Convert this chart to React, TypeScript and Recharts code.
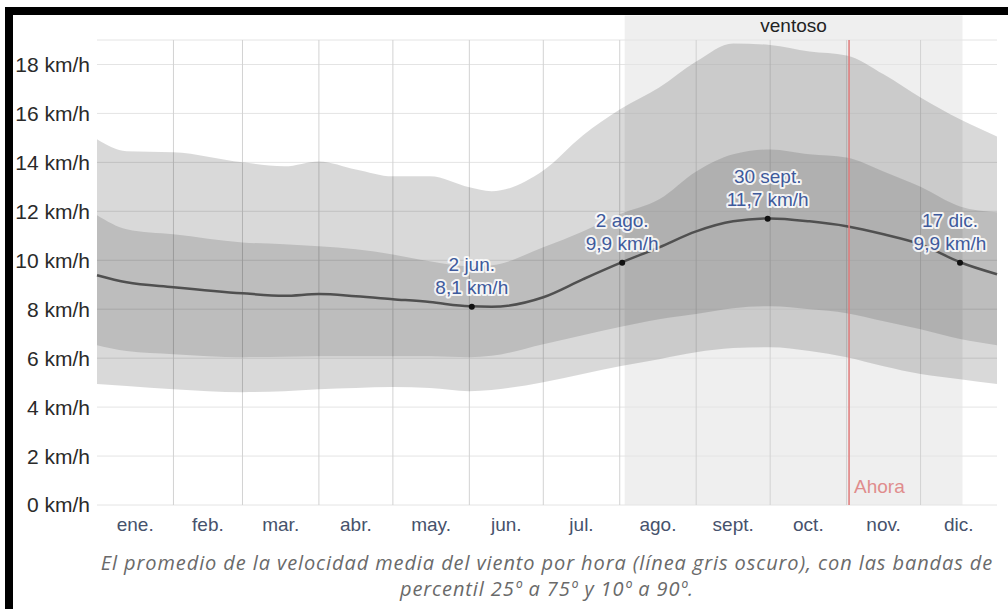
import {
  ComposedChart,
  Area,
  Line,
  Scatter,
  XAxis,
  YAxis,
  CartesianGrid,
  ReferenceArea,
  ReferenceLine,
} from "recharts";

// days of year (0 = 1 ene.)
const days = [0, 12, 31, 59, 76, 90, 105, 120, 135, 151, 160, 181, 197, 212, 228, 243, 258, 273, 289, 304, 319, 334, 350, 365];
const p90 = [14.94, 14.45, 14.41, 14.0, 13.84, 14.04, 13.71, 13.43, 13.43, 12.98, 12.82, 13.67, 15.1, 16.16, 17.06, 18.12, 18.86, 18.8, 18.53, 18.37, 17.6, 16.65, 15.76, 15.06];
const p75 = [11.84, 11.27, 11.06, 10.73, 10.65, 10.57, 10.45, 10.24, 9.96, 9.76, 9.8, 10.53, 11.18, 11.88, 12.49, 13.63, 14.33, 14.53, 14.33, 14.2, 13.63, 13.0, 12.2, 11.96];
const mean = [9.39, 9.1, 8.9, 8.65, 8.55, 8.62, 8.53, 8.41, 8.29, 8.12, 8.1, 8.49, 9.22, 9.88, 10.53, 11.18, 11.59, 11.71, 11.59, 11.39, 11.06, 10.65, 9.92, 9.43];
const p25 = [6.53, 6.29, 6.16, 6.04, 6.06, 6.08, 6.08, 6.08, 6.08, 6.04, 6.1, 6.57, 6.94, 7.27, 7.59, 7.8, 8.04, 8.12, 8.0, 7.84, 7.51, 7.18, 6.78, 6.53];
const p10 = [4.94, 4.86, 4.73, 4.61, 4.65, 4.73, 4.78, 4.82, 4.78, 4.65, 4.7, 5.02, 5.35, 5.67, 5.96, 6.24, 6.41, 6.45, 6.29, 6.04, 5.67, 5.35, 5.14, 4.94];

const monthStarts = [0, 31, 59, 90, 120, 151, 181, 212, 243, 273, 304, 334, 365];
const monthLabels = ["ene.", "feb.", "mar.", "abr.", "may.", "jun.", "jul.", "ago.", "sept.", "oct.", "nov.", "dic."];
const yTicks = [0, 2, 4, 6, 8, 10, 12, 14, 16, 18];

const annDays = [152, 213, 272, 350];
const annValues = [8.1, 9.9, 11.7, 9.9];
const annDates = ["2 jun.", "2 ago.", "30 sept.", "17 dic."];

const windyStart = 214;
const windyEnd = 351;
const today = 305;

const rows = days.map((d, i) => ({
  day: d,
  outer: [p10[i], p90[i]],
  inner: [p25[i], p75[i]],
  mean: mean[i],
}));

const annotations = annDays.map((d, i) => ({
  day: d,
  v: annValues[i],
  date: annDates[i],
  label: annValues[i].toFixed(1).replace(".", ",") + " km/h",
}));

const monthMids = monthLabels.map((_, i) => (monthStarts[i] + monthStarts[i + 1]) / 2);

const PLOT_RIGHT = 997;

const AnnotationShape = (props: any) => {
  const { cx, cy, payload } = props;
  const tx = Math.min(cx, PLOT_RIGHT - 47);
  const txt = {
    textAnchor: "middle" as const,
    fontSize: 19,
    fill: "#3e5a9c",
    stroke: "rgba(255,255,255,0.85)",
    strokeWidth: 4,
    strokeLinejoin: "round" as const,
    paintOrder: "stroke",
  };
  return (
    <g>
      <text x={tx} y={cy - 36} {...txt}>
        {payload.date}
      </text>
      <text x={tx} y={cy - 13} {...txt}>
        {payload.label}
      </text>
      <circle cx={cx} cy={cy} r={3} fill="#111" />
    </g>
  );
};

export default function App() {
  return (
    <div
      style={{
        position: "absolute",
        left: 0,
        top: 0,
        width: 1008,
        height: 609,
        background: "#fff",
        fontFamily: "'Liberation Sans', Arial, sans-serif",
        overflow: "hidden",
      }}
    >
      <ComposedChart
        width={1008}
        height={609}
        data={rows}
        margin={{ top: 40, right: 11, bottom: 74, left: 7 }}
      >
        <ReferenceArea
          x1={windyStart}
          x2={windyEnd}
          y1={0}
          y2={20}
          ifOverflow="visible"
          fill="#efefef"
          fillOpacity={1}
          stroke="none"
          zIndex={-200}
          label={(p: any) => (
            <text
              x={p.viewBox.x + p.viewBox.width / 2}
              y={p.viewBox.y + 16}
              textAnchor="middle"
              fontSize={19}
              fill="#222"
            >
              ventoso
            </text>
          )}
        />
        <CartesianGrid stroke="#e4e4e4" horizontal={true} vertical={false} />
        <CartesianGrid
          stroke="#d2d2d2"
          horizontal={false}
          vertical={true}
          verticalValues={monthStarts.slice(1, 12)}
        />
        <XAxis
          dataKey="day"
          type="number"
          domain={[0, 365]}
          ticks={monthMids}
          interval={0}
          tickFormatter={(_: any, i: number) => monthLabels[i]}
          tickLine={false}
          axisLine={false}
          tickSize={0}
          tickMargin={13}
          height={30}
          tick={{ fontSize: 19, fill: "#46526c" }}
        />
        <YAxis
          type="number"
          domain={[0, 19]}
          allowDataOverflow
          ticks={yTicks}
          tickFormatter={(v: number) => `${v} km/h`}
          tickLine={false}
          axisLine={false}
          tickSize={0}
          tickMargin={7}
          width={90}
          tick={{ fontSize: 21, fill: "#2a2a2a" }}
        />
        <Area
          dataKey="outer"
          type="monotone"
          stroke="none"
          fill="#000"
          fillOpacity={0.15}
          isAnimationActive={false}
        />
        <Area
          dataKey="inner"
          type="monotone"
          stroke="none"
          fill="#000"
          fillOpacity={0.13}
          isAnimationActive={false}
        />
        <Line
          dataKey="mean"
          type="monotone"
          stroke="#505050"
          strokeWidth={2.5}
          dot={false}
          isAnimationActive={false}
        />
        <ReferenceLine
          x={today}
          stroke="#e07a7a"
          strokeWidth={1.5}
          label={(p: any) => (
            <text
              x={p.viewBox.x + 5}
              y={p.viewBox.y + p.viewBox.height - 12}
              fontSize={19}
              fill="#e08c8c"
            >
              Ahora
            </text>
          )}
        />
        <Scatter
          data={annotations}
          dataKey="v"
          shape={AnnotationShape}
          isAnimationActive={false}
        />
      </ComposedChart>
      <div
        style={{
          position: "absolute",
          left: 97,
          top: 550,
          width: 900,
          textAlign: "center",
          fontFamily: "'Open Sans', sans-serif",
          fontStyle: "italic",
          fontSize: 20,
          letterSpacing: "0.9px",
          lineHeight: "26px",
          color: "#6a6a6a",
          whiteSpace: "nowrap",
        }}
      >
        El promedio de la velocidad media del viento por hora (línea gris oscuro), con las bandas de
        <br />
        percentil 25º a 75º y 10º a 90º.
      </div>
      <div
        style={{
          position: "absolute",
          left: 5,
          top: 7,
          width: 1003,
          height: 602,
          borderLeft: "8px solid #000",
          borderTop: "8px solid #000",
          boxSizing: "border-box",
          pointerEvents: "none",
        }}
      />
    </div>
  );
}
